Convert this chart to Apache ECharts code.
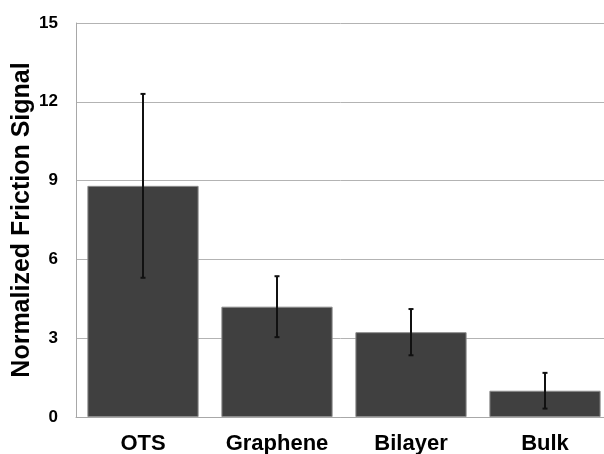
<!DOCTYPE html>
<html>
<head>
<meta charset="utf-8">
<script src="https://cdn.jsdelivr.net/npm/echarts@6/dist/echarts.min.js"></script>
<style>
  html, body { margin: 0; padding: 0; background: #fff; overflow: hidden; }
  #chart { width: 604px; height: 454px; }
</style>
</head>
<body>
<div id="chart"></div>
<script>
// Friction measurements per surface: mean and error half-width
const categories = ['OTS', 'Graphene', 'Bilayer', 'Bulk'];
const means = [8.8, 4.2, 3.23, 1.0];
const errors = [3.5, 1.16, 0.88, 0.68];
const yTicks = [0, 3, 6, 9, 12, 15];

const FONT = '"Liberation Sans", Arial, Helvetica, sans-serif';

const errorData = categories.map((c, i) => [i, means[i] - errors[i], means[i] + errors[i]]);

const chart = echarts.init(document.getElementById('chart'), null, { renderer: 'canvas' });

chart.setOption({
  animation: false,
  backgroundColor: '#ffffff',
  // plot area runs slightly past the right edge of the canvas
  grid: {
    left: 76, top: 23, width: 536, height: 394,
    containLabel: false,
    outerBoundsMode: 'none'
  },
  xAxis: {
    type: 'category',
    data: categories,
    axisLine: { show: true, lineStyle: { color: '#a8a8a8', width: 1 } },
    axisTick: { show: false },
    axisLabel: {
      interval: 0,
      hideOverlap: false,
      color: '#000',
      fontFamily: FONT,
      fontWeight: 'bold',
      fontSize: 22,
      margin: 16
    }
  },
  yAxis: {
    type: 'value',
    min: yTicks[0],
    max: yTicks[yTicks.length - 1],
    interval: 3,
    name: 'Normalized Friction Signal',
    nameLocation: 'middle',
    nameMoveOverlap: false,
    nameGap: 41,
    nameTextStyle: {
      color: '#000',
      fontFamily: FONT,
      fontWeight: 'bold',
      fontSize: 25
    },
    axisLine: { show: true, lineStyle: { color: '#a8a8a8', width: 1 } },
    axisTick: { show: false },
    splitLine: { show: true, lineStyle: { color: '#b3b3b3', width: 1 } },
    axisLabel: {
      color: '#000',
      fontFamily: FONT,
      fontWeight: 'bold',
      fontSize: 17,
      margin: 18
    }
  },
  series: [
    {
      type: 'bar',
      data: means,
      barCategoryGap: '17%',
      itemStyle: { color: '#404040', borderColor: '#8c8c8c', borderWidth: 1 },
      z: 2
    },
    {
      type: 'custom',
      data: errorData,
      z: 3,
      renderItem: function (params, api) {
        const x = api.value(0);
        const lo = api.coord([x, api.value(1)]);
        const hi = api.coord([x, api.value(2)]);
        const cap = 2.5;
        const style = { stroke: '#111111', lineWidth: 2 };
        return {
          type: 'group',
          children: [
            { type: 'line', shape: { x1: hi[0], y1: hi[1], x2: lo[0], y2: lo[1] }, style: style },
            { type: 'line', shape: { x1: hi[0] - cap, y1: hi[1], x2: hi[0] + cap, y2: hi[1] }, style: style },
            { type: 'line', shape: { x1: lo[0] - cap, y1: lo[1], x2: lo[0] + cap, y2: lo[1] }, style: style }
          ]
        };
      }
    }
  ]
});
</script>
</body>
</html>
